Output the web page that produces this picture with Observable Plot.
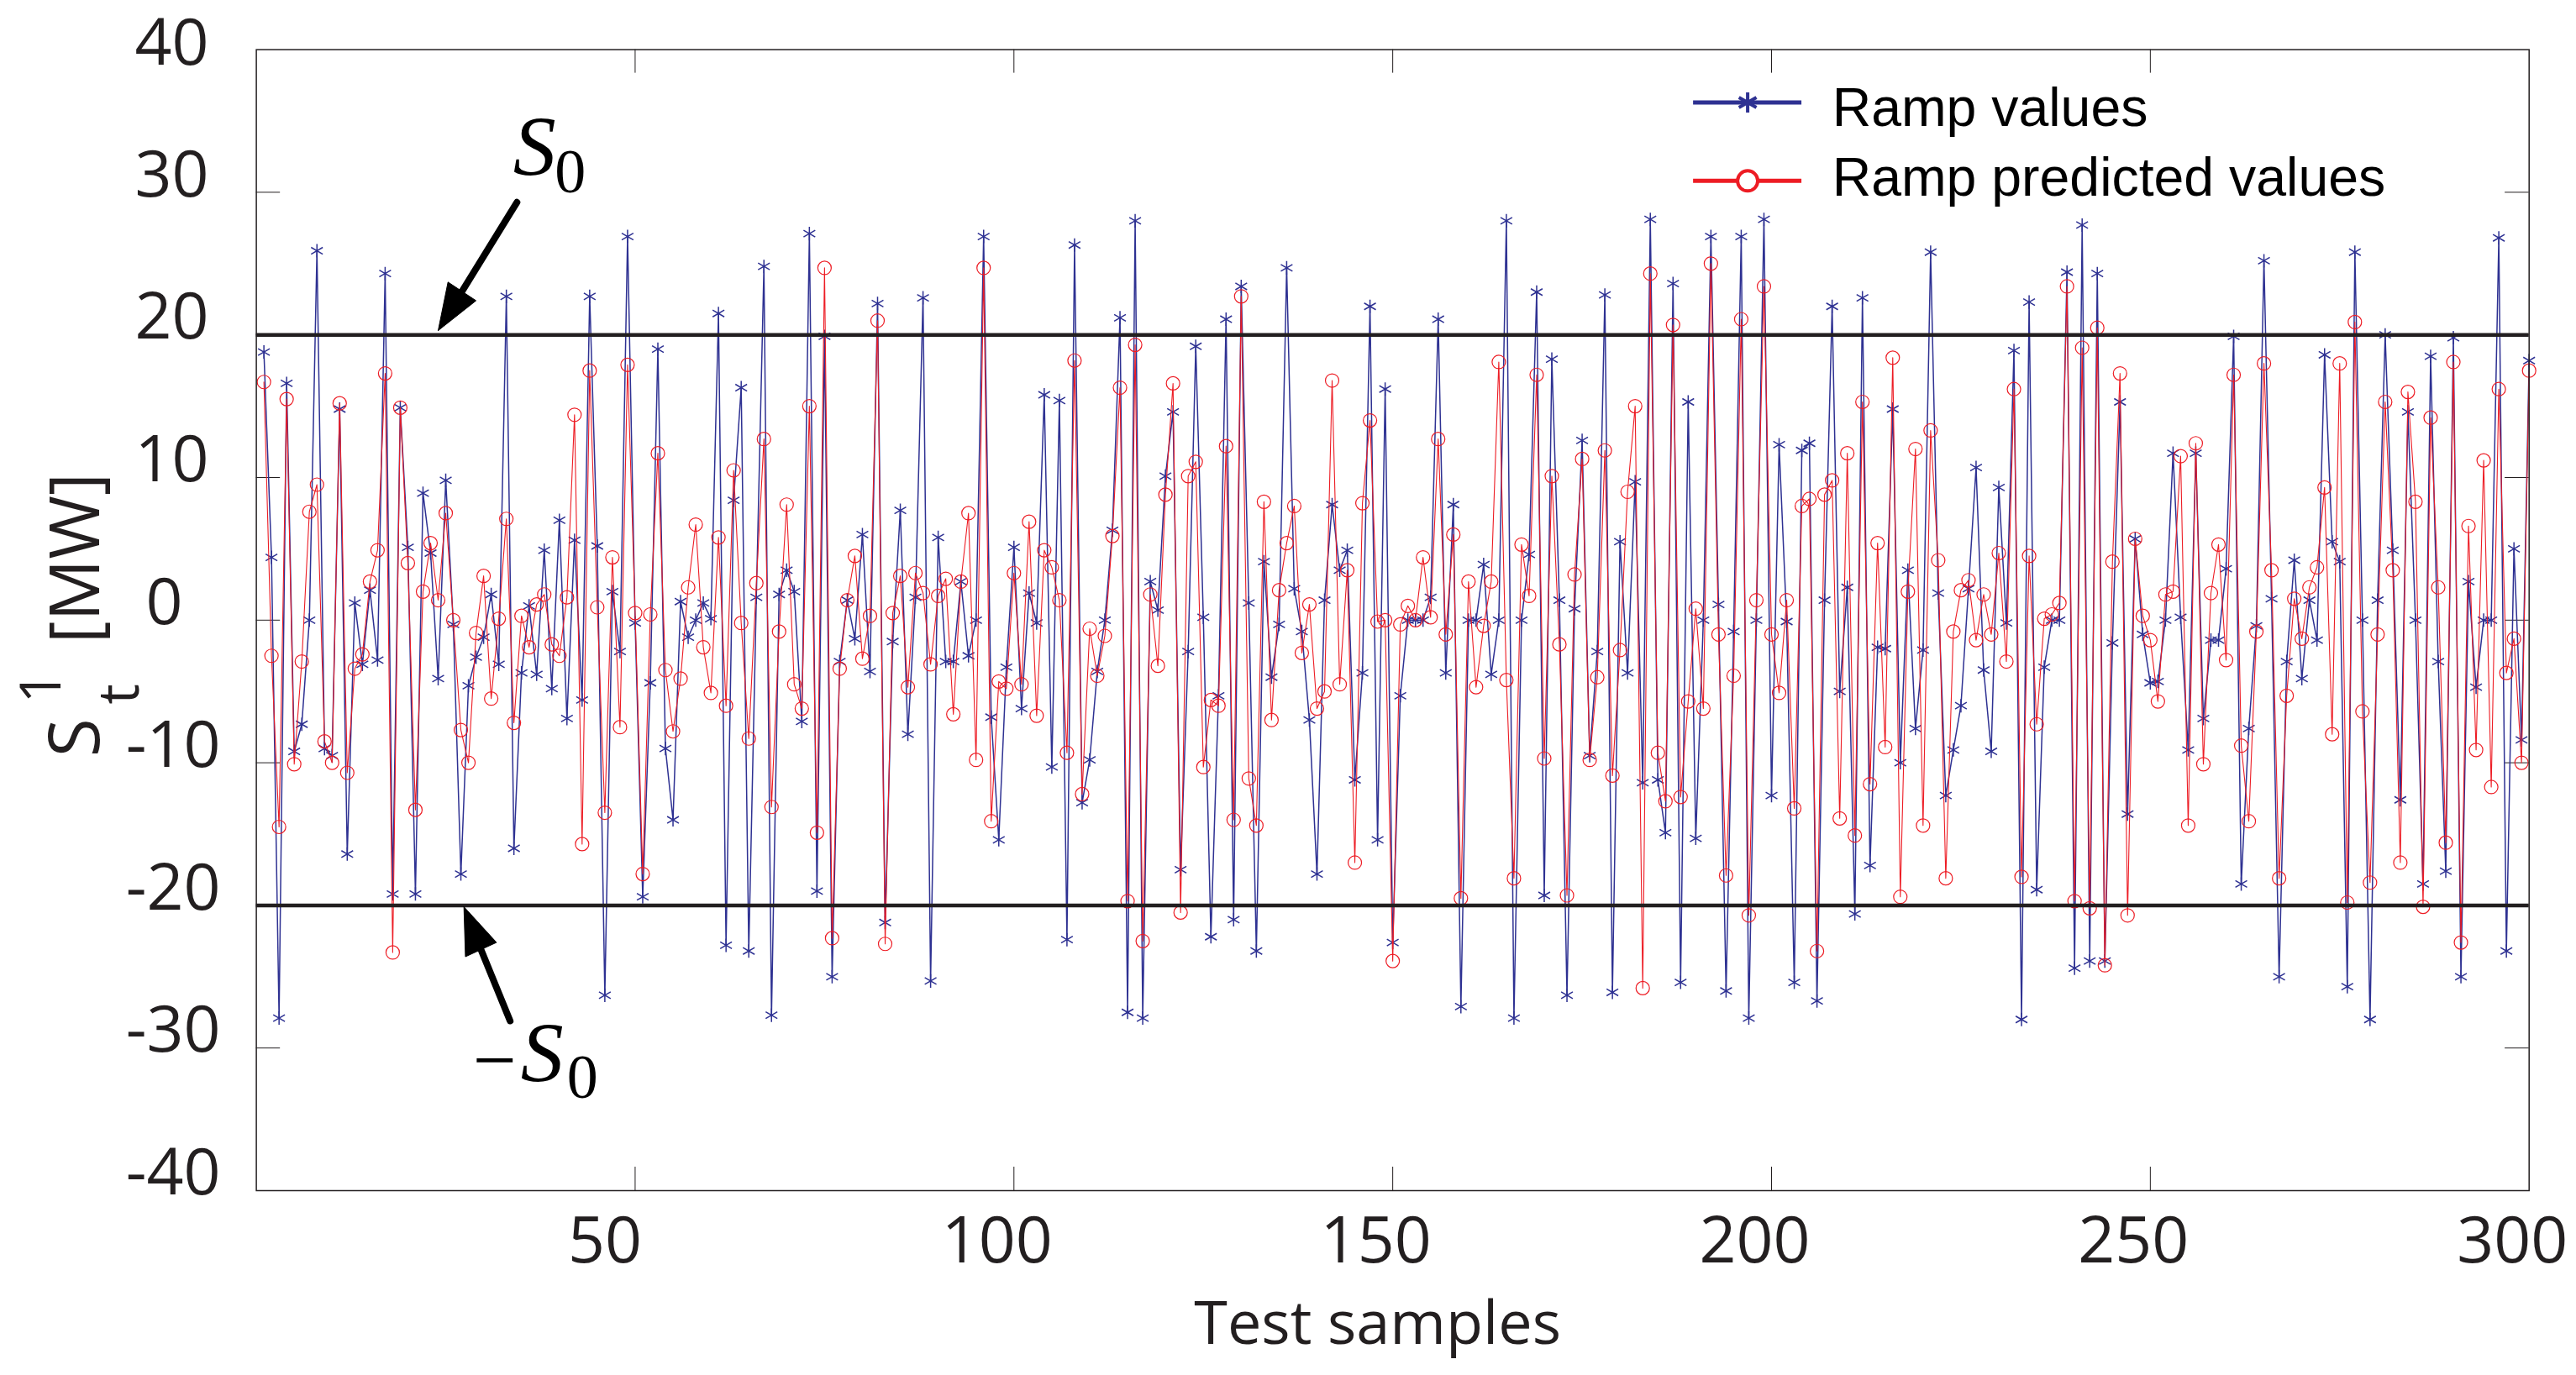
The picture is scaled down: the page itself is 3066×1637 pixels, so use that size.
<!DOCTYPE html>
<html><head><meta charset="utf-8">
<style>html,body{margin:0;padding:0;background:#fff}svg{display:block}</style>
<script src="https://cdn.jsdelivr.net/npm/d3@7"></script>
<script src="https://cdn.jsdelivr.net/npm/@observablehq/plot@0.6"></script>
</head><body><div id="chart"></div>
<script>
const rampValues = [
18.8,4.4,-27.9,16.6,-9.2,-7.3,0,25.9,-9.0,-9.5,
14.8,-16.4,1.2,-3.1,2.1,-2.8,24.3,-19.2,14.9,5.1,
-19.2,8.9,4.7,-4.1,9.8,-0.3,-17.8,-4.6,-2.6,-1.2,
1.8,-3.1,22.7,-16.0,-3.7,1.0,-3.8,4.9,-4.8,7.0,
-6.9,5.6,-5.6,22.7,5.2,-26.3,2.0,-2.2,26.9,-0.2,
-19.4,-4.4,19.0,-9.0,-14.0,1.3,-1.2,0,1.2,0.1,
21.5,-22.8,8.4,16.3,-23.2,1.6,24.8,-27.7,1.8,3.5,
2.0,-7.1,27.1,-19.0,19.9,-25.0,-2.9,1.4,-1.3,6.0,
-3.6,22.2,-21.2,-1.5,7.7,-8.0,1.6,22.6,-25.3,5.8,
-2.9,-2.9,2.7,-2.5,0,26.9,-6.8,-15.4,-3.3,5.1,
-6.2,1.9,-0.2,15.8,-10.3,15.4,-22.4,26.3,-12.8,-9.8,
-3.6,0,6.3,21.2,-27.5,28.0,-27.9,2.7,0.7,10.1,
14.6,-17.5,-2.2,19.2,0.2,-22.2,-5.3,21.1,-21.0,23.4,
1.2,-23.2,4.1,-4.0,-0.3,24.7,2.2,-0.8,-7.0,-17.8,
1.4,8.1,3.5,4.9,-11.2,-3.7,22.0,-15.4,16.2,-22.6,
-5.3,0,0,0,1.6,21.1,-3.7,8.1,-27.1,0,
0,3.9,-3.8,0,28.0,-27.9,0,4.6,23.0,-19.3,
18.3,1.4,-26.3,0.8,12.6,-9.5,-2.2,22.8,-26.1,5.5,
-3.7,9.7,-11.4,28.1,-11.2,-14.9,23.6,-25.4,15.3,-15.3,
0,26.9,1.1,-26.0,-0.8,26.9,-27.9,0,28.1,-12.3,
12.3,-0.1,-25.4,11.9,12.4,-26.7,1.4,22.0,-5.0,2.3,
-20.6,22.6,-17.2,-1.9,-2.0,14.8,-10.0,3.5,-7.6,-2.1,
25.8,1.9,-12.3,-9.1,-6.0,2.2,10.7,-3.5,-9.2,9.3,
-0.2,18.9,-28.0,22.3,-18.9,-3.3,0,0,24.4,-24.4,
27.7,-23.9,24.3,-23.9,-1.6,15.3,-13.6,5.7,-1.0,-4.4,
-4.3,0,11.7,0.2,-9.1,11.7,-6.9,-1.4,-1.4,3.6,
19.9,-18.5,-7.6,-0.4,25.2,1.5,-25.0,-2.9,4.2,-4.1,
1.4,-1.4,18.6,5.5,4.1,-25.7,25.8,0,-28.0,1.4,
20.0,4.9,-12.6,14.6,0,-18.5,18.5,-2.9,-17.6,19.8,
-25.0,2.7,-4.7,0,0,26.8,-23.2,5.0,-8.4,18.2];

const rampPredicted = [
16.7,-2.5,-14.5,15.5,-10.1,-2.9,7.6,9.5,-8.5,-10.0,
15.2,-10.7,-3.4,-2.4,2.7,4.9,17.3,-23.3,14.9,4.0,
-13.3,2.0,5.4,1.4,7.5,0,-7.7,-10.0,-0.9,3.1,
-5.5,0.1,7.1,-7.2,0.3,-1.9,1.1,1.8,-1.7,-2.5,
1.6,14.4,-15.7,17.5,0.9,-13.5,4.4,-7.5,17.9,0.5,
-17.8,0.4,11.7,-3.5,-7.8,-4.1,2.3,6.7,-1.9,-5.1,
5.8,-6.0,10.5,-0.2,-8.3,2.6,12.7,-13.1,-0.8,8.1,
-4.5,-6.2,15.0,-14.9,24.7,-22.3,-3.4,1.4,4.5,-2.7,
0.3,21.0,-22.7,0.5,3.1,-4.7,3.3,1.9,-3.1,1.7,
2.9,-6.6,2.7,7.5,-9.8,24.7,-14.1,-4.3,-4.8,3.3,
-4.5,6.9,-6.7,4.9,3.7,1.4,-9.3,18.2,-12.2,-0.6,
-3.9,-1.1,5.9,16.3,-19.7,19.3,-22.5,1.8,-3.2,8.8,
16.6,-20.5,10.1,11.1,-10.3,-5.6,-6.0,12.2,-14.0,22.7,
-11.1,-14.4,8.3,-7.0,2.1,5.4,8.0,-2.3,1.1,-6.2,
-5.0,16.8,-4.5,3.5,-17.0,8.2,14.0,-0.1,0,-23.9,
-0.3,1.0,0,4.4,0.2,12.7,-1.0,6.0,-19.5,2.7,
-4.7,-0.4,2.7,18.1,-4.2,-18.1,5.3,1.7,17.2,-9.7,
10.1,-1.7,-19.3,3.2,11.3,-9.8,-4.0,11.9,-10.9,-2.1,
9.0,15.0,-25.8,24.3,-9.3,-12.7,20.7,-12.4,-5.7,0.8,
-6.2,25.0,-1.0,-17.9,-3.9,21.1,-20.7,1.4,23.4,-1.0,
-5.1,1.4,-13.2,8.0,8.5,-23.2,8.8,9.8,-13.9,11.7,
-15.1,15.3,-11.5,5.4,-8.9,18.4,-19.4,2.0,12.0,-14.4,
13.3,4.2,-18.1,-0.8,2.1,2.8,-1.4,1.8,-1.0,4.7,
-2.9,16.2,-18.0,4.5,-7.3,0.1,0.4,1.2,23.4,-19.7,
19.1,-20.2,20.5,-24.2,4.1,17.3,-20.7,5.7,0.3,-1.4,
-5.7,1.8,2.0,11.5,-14.4,12.4,-10.1,1.9,5.3,-2.8,
17.2,-8.8,-14.1,-0.8,18.0,3.5,-18.1,-5.3,1.5,-1.3,
2.3,3.7,9.3,-8.0,18.0,-19.8,20.9,-6.4,-18.4,-1.0,
15.3,3.5,-17.0,16.0,8.3,-20.1,14.2,2.3,-15.6,18.1,
-22.6,6.6,-9.1,11.2,-11.7,16.2,-3.7,-1.3,-10.0,17.5];

const xTicks = [50,100,150,200,250,300];
const yTicks = [-40,-30,-20,-10,0,10,20,30,40];
const limits = [20,-20];
const samples = rampValues.map((_, i) => i + 1);

const BLUE = "#2e3192", RED = "#ed1c24", INK = "#231f20";
const SANS = "'Open Sans', sans-serif", HELV = "'Liberation Sans', Arial, sans-serif", SERIF = "'Liberation Serif', serif";

const yLabel = (vals, dx, dy) => Plot.text(vals, {x: 0, y: d => d, text: d => String(d), dx, dy,
  textAnchor: "end", lineAnchor: "middle", fontSize: 77, fontFamily: SANS, fill: INK});
const xLabel = (vals, dx) => Plot.text(vals, {x: d => d, y: -40, text: d => String(d), dx, dy: 61,
  textAnchor: "middle", lineAnchor: "middle", fontSize: 77, fontFamily: SANS, fill: INK});
const note = (t, x, y, size, opts = {}) => Plot.text([t], {x: () => x, y: () => y, text: d => d,
  fontSize: size, textAnchor: "start", lineAnchor: "bottom", fill: "#000", fontFamily: SERIF, ...opts});
const rot = t => ({rotate: -90, textAnchor: "middle", fontFamily: SANS, fill: INK});

const chart = Plot.plot({
  width: 3066, height: 1637,
  marginLeft: 304.6, marginRight: 56.3, marginTop: 58.6, marginBottom: 220,
  style: {background: "#fff", overflow: "visible"},
  x: {domain: [0, 300], axis: null},
  y: {domain: [-40, 40], axis: null},
  marks: [
    // ticks on all four sides
    Plot.ruleX(xTicks.slice(0, -1), {x: d => d, y1: -40, y2: -38.35, stroke: INK, strokeWidth: 1}),
    Plot.ruleX(xTicks.slice(0, -1), {x: d => d, y1: 38.35, y2: 40, stroke: INK, strokeWidth: 1}),
    Plot.ruleY(yTicks.slice(1, -1), {y: d => d, x1: 0, x2: 3.17, stroke: INK, strokeWidth: 1}),
    Plot.ruleY(yTicks.slice(1, -1), {y: d => d, x1: 296.83, x2: 300, stroke: INK, strokeWidth: 1}),

    // series
    Plot.line(samples, {x: d => d, y: d => rampValues[d - 1], stroke: BLUE, strokeWidth: 1.5}),
    Plot.dot(samples, {x: d => d, y: d => rampValues[d - 1], symbol: "asterisk", r: 7.6, stroke: BLUE, strokeWidth: 1.5}),
    Plot.line(samples, {x: d => d, y: d => rampPredicted[d - 1], stroke: RED, strokeWidth: 1.1}),
    Plot.dot(samples, {x: d => d, y: d => rampPredicted[d - 1], r: 8, stroke: RED, strokeWidth: 1.2, fill: "none"}),

    // limits
    Plot.ruleY(limits, {y: d => d, x1: 0, x2: 300, stroke: INK, strokeWidth: 4.5}),
    Plot.frame({stroke: INK, strokeWidth: 1.5}),

    // tick labels
    yLabel([10, 20, 30], -56.6, -20),
    yLabel([40], -56.6, -6.6),
    yLabel([0], -87.6, -20),
    yLabel([-10, -20, -30, -40], -42.6, -20),
    xLabel([50], -36),
    xLabel([100, 150, 200, 250, 300], -20),
    Plot.text(["Test samples"], {x: () => 148, y: () => -40, dy: 159, text: d => d, fontSize: 72,
      textAnchor: "middle", lineAnchor: "middle", fontFamily: SANS, fill: INK}),

    // y axis title, rotated pieces
    Plot.text(["S"], {x: () => -20.7, y: () => -8.24, text: d => d, fontSize: 84, lineAnchor: "bottom", ...rot()}),
    Plot.text(["1"], {x: () => -25.8, y: () => -4.71, text: d => d, fontSize: 68, lineAnchor: "bottom", ...rot()}),
    Plot.text(["t"], {x: () => -15.5, y: () => -5.18, text: d => d, fontSize: 68, lineAnchor: "bottom", ...rot()}),
    Plot.text(["[MW]"], {x: () => -20.7, y: () => 4.33, text: d => d, fontSize: 82, lineAnchor: "bottom", ...rot()}),

    // S0 annotation
    note("S", 33.9, 31.2, 102, {fontStyle: "italic"}),
    note("0", 39.4, 30.0, 74),
    Plot.line([[34.4, 29.3], [27.15, 23.05]], {x: d => d[0], y: d => d[1], stroke: "#000", strokeWidth: 8, strokeLinecap: "round"}),
    Plot.line([[24.0, 20.3], [25.3, 23.7], [29.0, 22.4], [24.0, 20.3]], {x: d => d[0], y: d => d[1], fill: "#000", stroke: "#000", strokeWidth: 1}),

    // -S0 annotation
    note("\u2212", 28.6, -32.65, 92),
    note("S", 34.9, -32.4, 102, {fontStyle: "italic"}),
    note("0", 41.0, -33.5, 74),
    Plot.line([[33.5, -28.1], [29.65, -23.1]], {x: d => d[0], y: d => d[1], stroke: "#000", strokeWidth: 8, strokeLinecap: "round"}),
    Plot.line([[27.4, -20.1], [27.6, -23.6], [31.7, -22.6], [27.4, -20.1]], {x: d => d[0], y: d => d[1], fill: "#000", stroke: "#000", strokeWidth: 1}),

    // legend
    Plot.ruleY([36.3], {y: d => d, x1: 189.7, x2: 204.0, stroke: BLUE, strokeWidth: 5}),
    Plot.dot([196.85], {x: d => d, y: () => 36.3, symbol: "asterisk", r: 11.4, stroke: BLUE, strokeWidth: 4}),
    Plot.ruleY([30.8], {y: d => d, x1: 189.7, x2: 204.0, stroke: RED, strokeWidth: 5}),
    Plot.dot([196.85], {x: d => d, y: () => 30.8, r: 12, stroke: RED, strokeWidth: 4, fill: "#fff"}),
    Plot.text(["Ramp values"], {x: () => 208.0, y: () => 34.65, text: d => d, fontSize: 64.4, textAnchor: "start", lineAnchor: "bottom", fontFamily: HELV, fill: "#000"}),
    Plot.text(["Ramp predicted values"], {x: () => 208.0, y: () => 29.75, text: d => d, fontSize: 64.4, textAnchor: "start", lineAnchor: "bottom", fontFamily: HELV, fill: "#000"})
  ]
});
document.getElementById("chart").appendChild(chart);
</script>
</body></html>
